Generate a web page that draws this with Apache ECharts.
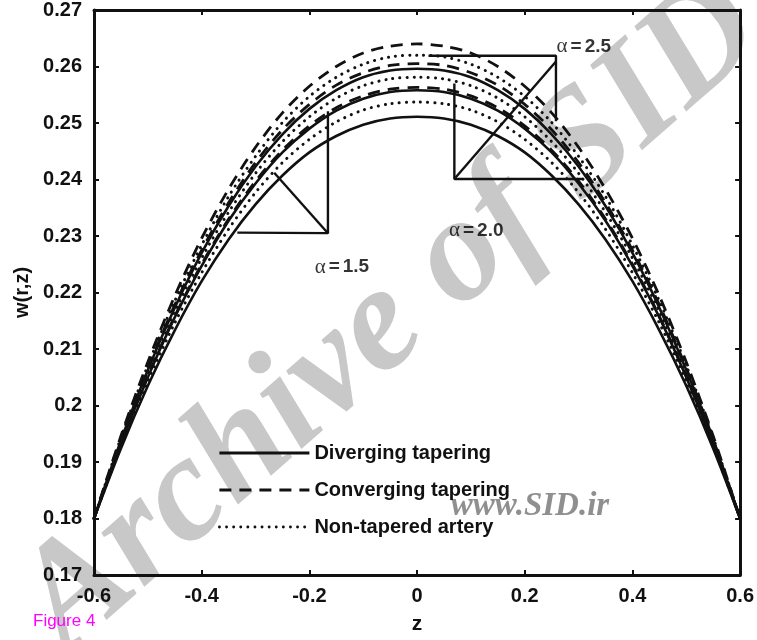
<!DOCTYPE html>
<html>
<head>
<meta charset="utf-8">
<script src="https://cdn.jsdelivr.net/npm/echarts@6/dist/echarts.min.js"></script>
<style>
  html, body { margin: 0; padding: 0; background: #ffffff; }
  #chart { width: 757px; height: 640px; }
</style>
</head>
<body>
<div id="chart"></div>
<script>
// Axial positions z
const zValues = [-0.6, -0.55, -0.5, -0.45, -0.4, -0.35, -0.3, -0.25, -0.2, -0.15, -0.1, -0.05, 0,
                 0.05, 0.1, 0.15, 0.2, 0.25, 0.3, 0.35, 0.4, 0.45, 0.5, 0.55, 0.6];

// alpha = 1.5
const divAlpha15 = [0.1800, 0.1924, 0.2035, 0.2133, 0.2220, 0.2294, 0.2356, 0.2407, 0.2448, 0.2477, 0.2497, 0.2508, 0.2511,
                    0.2508, 0.2497, 0.2477, 0.2448, 0.2407, 0.2356, 0.2294, 0.2220, 0.2133, 0.2035, 0.1924, 0.1800];
const conAlpha15 = [0.1800, 0.1933, 0.2052, 0.2158, 0.2250, 0.2330, 0.2397, 0.2452, 0.2495, 0.2527, 0.2548, 0.2560, 0.2563,
                    0.2560, 0.2548, 0.2527, 0.2495, 0.2452, 0.2397, 0.2330, 0.2250, 0.2158, 0.2052, 0.1933, 0.1800];
const nonAlpha15 = [0.1800, 0.1928, 0.2043, 0.2146, 0.2235, 0.2312, 0.2377, 0.2430, 0.2471, 0.2502, 0.2523, 0.2534, 0.2537,
                    0.2534, 0.2523, 0.2502, 0.2471, 0.2430, 0.2377, 0.2312, 0.2235, 0.2146, 0.2043, 0.1928, 0.1800];
// alpha = 2.0
const divAlpha20 = [0.1800, 0.1932, 0.2050, 0.2156, 0.2247, 0.2327, 0.2393, 0.2448, 0.2490, 0.2522, 0.2543, 0.2555, 0.2558,
                    0.2555, 0.2543, 0.2522, 0.2490, 0.2448, 0.2393, 0.2327, 0.2247, 0.2156, 0.2050, 0.1932, 0.1800];
const conAlpha20 = [0.1800, 0.1940, 0.2066, 0.2178, 0.2275, 0.2359, 0.2430, 0.2488, 0.2533, 0.2567, 0.2589, 0.2602, 0.2605,
                    0.2602, 0.2589, 0.2567, 0.2533, 0.2488, 0.2430, 0.2359, 0.2275, 0.2178, 0.2066, 0.1940, 0.1800];
const nonAlpha20 = [0.1800, 0.1936, 0.2058, 0.2166, 0.2261, 0.2342, 0.2411, 0.2467, 0.2511, 0.2544, 0.2566, 0.2578, 0.2581,
                    0.2578, 0.2566, 0.2544, 0.2511, 0.2467, 0.2411, 0.2342, 0.2261, 0.2166, 0.2058, 0.1936, 0.1800];
// alpha = 2.5
const divAlpha25 = [0.1800, 0.1938, 0.2063, 0.2173, 0.2270, 0.2353, 0.2423, 0.2480, 0.2525, 0.2558, 0.2581, 0.2593, 0.2596,
                    0.2593, 0.2581, 0.2558, 0.2525, 0.2480, 0.2423, 0.2353, 0.2270, 0.2173, 0.2063, 0.1938, 0.1800];
const conAlpha25 = [0.1800, 0.1946, 0.2077, 0.2194, 0.2296, 0.2383, 0.2457, 0.2518, 0.2565, 0.2600, 0.2624, 0.2636, 0.2640,
                    0.2636, 0.2624, 0.2600, 0.2565, 0.2518, 0.2457, 0.2383, 0.2296, 0.2194, 0.2077, 0.1946, 0.1800];
const nonAlpha25 = [0.1800, 0.1943, 0.2071, 0.2185, 0.2284, 0.2370, 0.2441, 0.2501, 0.2547, 0.2581, 0.2604, 0.2617, 0.2620,
                    0.2617, 0.2604, 0.2581, 0.2547, 0.2501, 0.2441, 0.2370, 0.2284, 0.2185, 0.2071, 0.1943, 0.1800];

// Tick labels
const xTickLabels = ['-0.6', '-0.4', '-0.2', '0', '0.2', '0.4', '0.6'];
const yTickLabels = ['0.17', '0.18', '0.19', '0.2', '0.21', '0.22', '0.23', '0.24', '0.25', '0.26', '0.27'];

// Legend names
const seriesNames = ['Diverging tapering', 'Converging tapering', 'Non-tapered artery'];

// Pointer lines for the alpha groups, in (z, w) coordinates
const pointer15 = [[-0.1655, 0.2521], [-0.1655, 0.2305], [-0.3338, 0.2306]];
const pointer15Diag = [[-0.1655, 0.2305], [-0.2653, 0.2412]];
const pointer20 = [[0.0693, 0.2570], [0.0693, 0.2401], [0.308, 0.2401]];
const pointer25 = [[0.0213, 0.2619], [0.258, 0.2619], [0.258, 0.2503]];
const pointerDiag = [[0.258, 0.2609], [0.0712, 0.2403]];

// Alpha labels
const alphaLabels = [
  { text: '1.5', z: -0.1396, w: 0.2245 },
  { text: '2.0', z: 0.110, w: 0.2310 },
  { text: '2.5', z: 0.3098, w: 0.2635 }
];

const FONT = '"Liberation Sans", Arial, Helvetica, sans-serif';
const INK = '#111111';

function pairs(vals) { return zValues.map((z, i) => [z, vals[i]]); }

const solidStyle = { color: INK, width: 2.6, type: 'solid' };
const dashStyle = { color: INK, width: 2.8, type: [12, 8], cap: 'butt' };
const dotStyle = { color: INK, width: 3, type: [0.1, 7], cap: 'round' };

function curve(name, vals, ls) {
  return {
    name: name, type: 'line', data: pairs(vals), symbol: 'none', smooth: 0.3,
    lineStyle: ls, itemStyle: { color: INK }, z: 3, silent: true
  };
}
function pointer(data) {
  return {
    name: 'pointer', type: 'line', data: data, symbol: 'none',
    lineStyle: { color: INK, width: 2.4 }, z: 4, silent: true
  };
}

const series = [
  curve(seriesNames[0], divAlpha15, solidStyle),
  curve(seriesNames[1], conAlpha15, dashStyle),
  curve(seriesNames[2], nonAlpha15, dotStyle),
  curve(seriesNames[0], divAlpha20, solidStyle),
  curve(seriesNames[1], conAlpha20, dashStyle),
  curve(seriesNames[2], nonAlpha20, dotStyle),
  curve(seriesNames[0], divAlpha25, solidStyle),
  curve(seriesNames[1], conAlpha25, dashStyle),
  curve(seriesNames[2], nonAlpha25, dotStyle),
  pointer(pointer15), pointer(pointer15Diag), pointer(pointer20), pointer(pointer25), pointer(pointerDiag),
  {
    name: 'alpha', type: 'scatter', symbolSize: 0, silent: true, z: 5,
    data: alphaLabels.map(a => ({ value: [a.z, a.w], name: a.text })),
    label: {
      show: true, position: 'inside',
      formatter: p => '{a|\u03b1}{e|=}{b|' + p.name + '}',
      rich: {
        a: { fontFamily: '"Liberation Serif", "Times New Roman", serif', fontSize: 21, color: '#000000' },
        e: { fontFamily: FONT, fontWeight: 'bold', fontSize: 19, color: '#000000', padding: [0, 3, 0, 3] },
        b: { fontFamily: FONT, fontWeight: 'bold', fontSize: 19, color: '#000000' }
      }
    }
  }
];

const axisLine = { show: true, onZero: false, lineStyle: { color: INK, width: 3 } };
const axisTick = { show: true, inside: true, length: 5, lineStyle: { color: INK, width: 2 } };
const labelFont = { fontFamily: FONT, fontWeight: 'bold', fontSize: 20, color: INK };

const chart = echarts.init(document.getElementById('chart'), null, { renderer: 'canvas' });
chart.setOption({
  animation: false,
  backgroundColor: '#ffffff',
  graphic: [
    {
      type: 'text', x: 392, y: 318, rotation: 0.72, z: -10, silent: true,
      style: {
        text: 'Archive of SID', textAlign: 'center', textVerticalAlign: 'middle',
        fontFamily: '"Liberation Serif", "Times New Roman", serif', fontStyle: 'italic', fontWeight: 'bold',
        fontSize: 150, fill: '#c8c8c8'
      }
    },
    {
      type: 'text', x: 530, y: 506, z: -5, silent: true,
      style: {
        text: 'www.SID.ir', textAlign: 'center', textVerticalAlign: 'middle',
        fontFamily: '"Liberation Serif", "Times New Roman", serif', fontStyle: 'italic', fontWeight: 'bold',
        fontSize: 33, fill: '#8f8f8f'
      }
    },
    {
      type: 'text', x: 33, y: 621, silent: true,
      style: {
        text: 'Figure 4', textAlign: 'left', textVerticalAlign: 'middle',
        fontFamily: FONT, fontSize: 17, fill: '#ff00ff'
      }
    }
  ],
  grid: { left: 94, right: 14, top: 8, bottom: 63, show: false },
  legend: {
    data: seriesNames,
    orient: 'vertical', left: 218, top: 443, padding: 0,
    itemWidth: 90, itemHeight: 14, itemGap: 17,
    itemStyle: { opacity: 0 },
    lineStyle: { width: 2.8 },
    textStyle: { fontFamily: FONT, fontWeight: 'bold', fontSize: 20, color: INK },
    selectedMode: false
  },
  xAxis: [
    {
      type: 'value', min: -0.6, max: 0.6, interval: 0.2, position: 'bottom',
      axisLine: axisLine, axisTick: axisTick,
      axisLabel: Object.assign({ margin: 11, formatter: v => xTickLabels[Math.round((v + 0.6) / 0.2)] }, labelFont),
      splitLine: { show: false },
      name: 'z', nameLocation: 'middle', nameGap: 39,
      nameTextStyle: { fontFamily: FONT, fontWeight: 'bold', fontSize: 21, color: INK }
    },
    {
      type: 'value', min: -0.6, max: 0.6, interval: 0.2, position: 'top',
      axisLine: axisLine, axisTick: axisTick,
      axisLabel: { show: false }, splitLine: { show: false }
    }
  ],
  yAxis: [
    {
      type: 'value', min: 0.17, max: 0.27, interval: 0.01, position: 'left',
      axisLine: axisLine, axisTick: axisTick,
      axisLabel: Object.assign({ margin: 12, formatter: v => yTickLabels[Math.round((v - 0.17) / 0.01)] }, labelFont),
      splitLine: { show: false },
      name: 'w(r,z)', nameLocation: 'middle', nameGap: 62, nameRotate: 90,
      nameTextStyle: { fontFamily: FONT, fontWeight: 'bold', fontSize: 20, color: INK }
    },
    {
      type: 'value', min: 0.17, max: 0.27, interval: 0.01, position: 'right',
      axisLine: axisLine, axisTick: axisTick,
      axisLabel: { show: false }, splitLine: { show: false }
    }
  ],
  series: series
});
</script>
</body>
</html>
